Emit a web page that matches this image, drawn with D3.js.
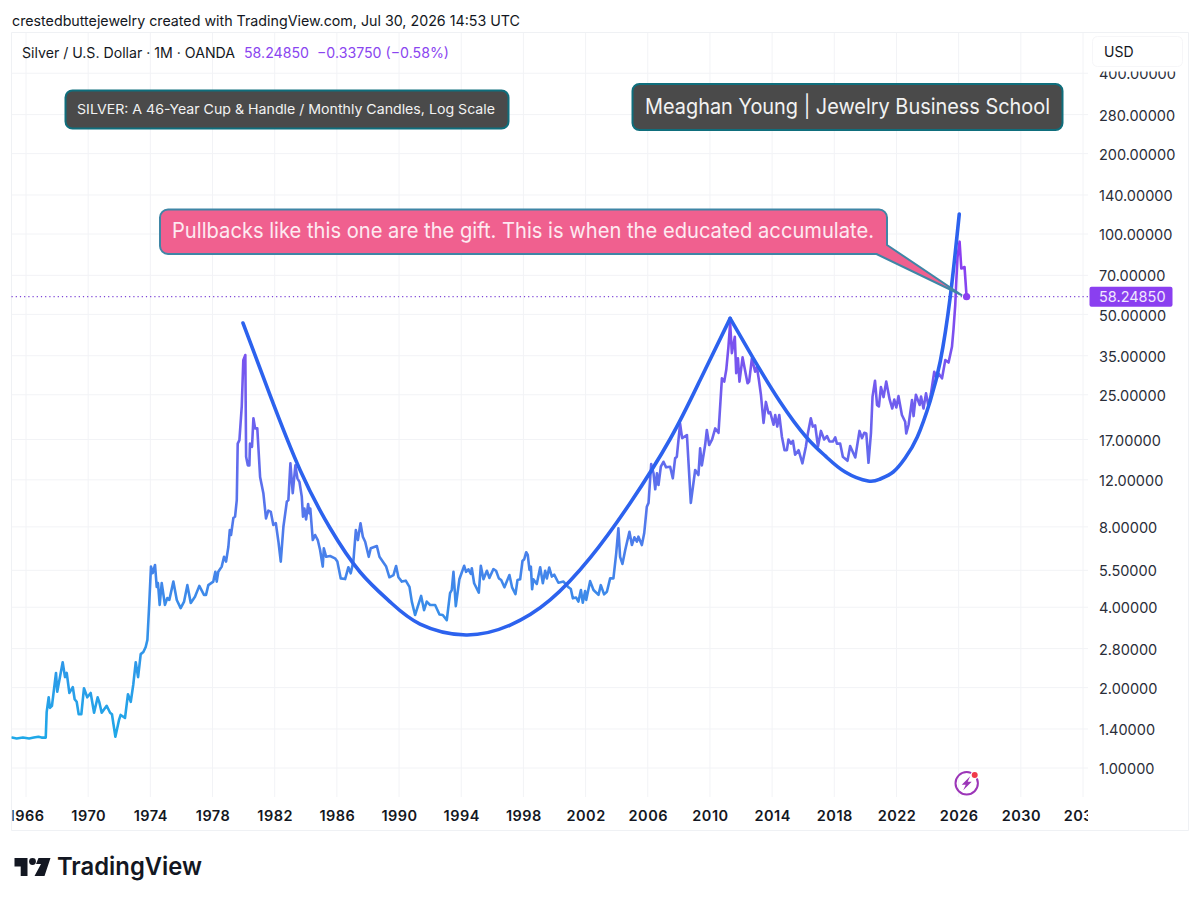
<!DOCTYPE html>
<html><head><meta charset="utf-8">
<script src="https://d3js.org/d3.v7.min.js"></script>
<style>
html,body{margin:0;padding:0;background:#fff}
svg{display:block}
text{font-family:Inter,"Noto Sans",sans-serif}
</style></head><body><div id="c"></div>
<script>
const yearTicks=[1966,1970,1974,1978,1982,1986,1990,1994,1998,2002,2006,2010,2014,2018,2022,2026,2030,2034];
const priceTicks=[400,280,200,140,100,70,50,35,25,17,12,8,5.5,4,2.8,2,1.4,1];
const lastPrice=58.2485;
const headline="crestedbuttejewelry created with TradingView.com, Jul 30, 2026 14:53 UTC";
const symbolTitle="Silver / U.S. Dollar · 1M · OANDA";
const quoteText="58.24850  −0.33750 (−0.58%)";
const note1="SILVER: A 46-Year Cup & Handle / Monthly Candles, Log Scale";
const note2="Meaghan Young | Jewelry Business School";
const note3="Pullbacks like this one are the gift. This is when the educated accumulate.";

const priceDates=[1965.10,1965.4,1965.8,1966.2,1966.5,1966.8,1967.0,1967.2,1967.27,1967.33,1967.46,1967.54,1967.67,1967.93,1968.01,1968.36,1968.51,1968.62,1968.79,1969.01,1969.13,1969.26,1969.39,1969.56,1969.73,1969.94,1970.16,1970.38,1970.61,1970.72,1970.87,1971.19,1971.41,1971.53,1971.75,1971.98,1972.09,1972.37,1972.56,1972.74,1972.90,1973.06,1973.21,1973.38,1973.55,1973.70,1973.81,1973.93,1974.04,1974.15,1974.30,1974.41,1974.49,1974.60,1974.73,1974.94,1975.09,1975.22,1975.48,1975.70,1975.95,1976.17,1976.38,1976.60,1976.87,1977.15,1977.45,1977.58,1977.73,1978.05,1978.18,1978.27,1978.37,1978.59,1978.74,1978.87,1979.02,1979.11,1979.19,1979.34,1979.45,1979.56,1979.62,1979.73,1979.88,1979.98,1980.11,1980.16,1980.27,1980.37,1980.41,1980.54,1980.63,1980.74,1980.88,1981.06,1981.27,1981.44,1981.59,1981.75,1981.91,1982.07,1982.24,1982.39,1982.56,1982.78,1982.88,1983.01,1983.16,1983.33,1983.46,1983.59,1983.74,1983.82,1983.91,1984.02,1984.15,1984.23,1984.29,1984.45,1984.60,1984.77,1984.92,1985.09,1985.16,1985.31,1985.56,1985.88,1986.03,1986.25,1986.53,1986.74,1986.89,1987.06,1987.22,1987.35,1987.52,1987.67,1987.82,1988.05,1988.18,1988.57,1988.74,1989.17,1989.38,1989.64,1989.81,1989.96,1990.18,1990.43,1990.67,1990.82,1991.03,1991.42,1991.61,1991.78,1992.00,1992.32,1992.60,1992.81,1993.07,1993.28,1993.39,1993.50,1993.65,1993.88,1994.19,1994.31,1994.46,1994.62,1994.68,1994.83,1995.13,1995.26,1995.43,1995.65,1995.81,1996.07,1996.24,1996.42,1996.57,1996.78,1997.10,1997.27,1997.49,1997.62,1997.79,1997.94,1998.05,1998.18,1998.28,1998.39,1998.48,1998.56,1998.64,1998.86,1999.08,1999.25,1999.40,1999.51,1999.66,1999.83,1999.98,2000.25,2000.58,2000.90,2001.05,2001.18,2001.39,2001.54,2001.70,2001.82,2001.97,2002.04,2002.29,2002.51,2002.83,2002.98,2003.19,2003.37,2003.58,2003.79,2003.97,2004.11,2004.22,2004.37,2004.55,2004.82,2004.98,2005.14,2005.30,2005.40,2005.62,2005.77,2005.94,2006.05,2006.22,2006.37,2006.48,2006.59,2006.69,2006.84,2007.01,2007.18,2007.44,2007.61,2007.76,2007.87,2008.08,2008.21,2008.52,2008.77,2009.05,2009.26,2009.37,2009.48,2009.69,2009.80,2009.95,2010.14,2010.34,2010.55,2010.77,2010.92,2011.05,2011.19,2011.30,2011.41,2011.60,2011.69,2011.80,2011.90,2012.10,2012.42,2012.52,2012.70,2012.91,2013.02,2013.15,2013.28,2013.45,2013.60,2013.77,2013.88,2014.09,2014.20,2014.33,2014.46,2014.63,2014.80,2014.95,2015.05,2015.21,2015.34,2015.48,2015.70,2015.95,2016.17,2016.30,2016.49,2016.62,2016.77,2016.95,2017.14,2017.35,2017.53,2017.69,2017.91,2018.06,2018.17,2018.38,2018.55,2018.85,2019.02,2019.35,2019.62,2019.78,2019.93,2020.06,2020.20,2020.36,2020.46,2020.62,2020.75,2020.87,2021.00,2021.17,2021.34,2021.56,2021.73,2021.86,2021.99,2022.13,2022.35,2022.56,2022.63,2022.78,2023.00,2023.10,2023.25,2023.49,2023.58,2023.74,2023.90,2024.06,2024.22,2024.43,2024.60,2024.71,2024.93,2025.14,2025.35,2025.57,2025.67,2025.78,2025.84,2025.93,2026.06,2026.17,2026.38,2026.51];
const priceValues=[1.30,1.29,1.30,1.29,1.30,1.31,1.30,1.30,1.30,1.62,1.84,1.68,1.71,2.27,1.93,2.49,2.19,2.27,1.91,2.01,1.81,1.77,1.59,1.59,1.99,1.84,1.91,1.61,1.84,1.76,1.61,1.71,1.61,1.59,1.31,1.51,1.58,1.54,1.89,1.77,2.05,2.49,2.19,2.67,2.72,2.84,3.02,4.14,5.68,5.37,5.76,4.77,4.93,4.08,4.93,4.08,4.33,4.26,4.99,4.26,3.97,4.2,4.84,4.15,4.38,4.81,4.45,4.45,4.84,4.99,5.43,4.99,5.43,5.68,6.18,5.93,6.74,7.78,7.46,8.63,8.74,10.08,16.4,16.9,22.6,33.7,35.2,14.65,13.6,13.6,16.4,15.96,20.4,18.7,18.7,12.3,10.7,8.61,9.2,9.1,8.13,8.27,7.04,5.93,8.01,9.94,10.08,13.84,10.7,13.6,12.16,11.8,10.4,8.74,9.37,8.53,9.75,8.99,9.37,7.14,7.46,7.14,6.55,5.68,6.65,6.18,6.22,6.1,5.93,5.13,5.1,5.65,5.36,5.93,7.78,7.14,8.25,7.35,7.04,6.18,6.65,6.78,6.18,5.68,5.18,5.28,5.71,5.18,4.99,5.03,4.77,4.2,3.74,4.41,3.9,4.2,4.08,4.08,3.76,3.74,3.58,4.52,4.64,5.43,4.04,5.09,5.72,5.43,5.55,5.33,5.6,4.92,4.54,5.72,5.09,5.48,5.15,5.56,5.48,5.13,5.06,4.75,5.28,4.75,4.48,5.06,5.09,5.96,6.05,6.43,6.28,5.52,5.68,4.67,5.09,4.89,5.65,4.92,5.48,5.13,5.63,5.21,5.3,4.94,4.99,4.75,4.68,4.32,4.35,4.2,4.64,4.16,4.6,4.26,5.01,4.64,4.45,4.84,4.47,4.57,5.13,5.13,6.37,7.9,6.18,5.81,6.55,7.67,6.84,7.31,7.04,7.35,6.84,7.57,9.52,9.84,13.76,12.7,11.06,12.7,11.48,13.44,14.03,13.37,13.44,12.16,14.45,14.65,19.5,17.2,17.66,9.84,13.06,12.51,15.75,13.6,16.2,18.45,16.2,17,18.7,18.0,28.8,28,31,37.8,46.4,35.8,41.2,30.1,34.2,28,34.5,27.6,28,34.2,30.5,31.8,28.4,25,19.6,23.5,21.3,21.5,19.3,21,19,21,17.4,15.5,15.5,17,16.4,16.8,14.9,15.5,13.84,15.96,17.9,20.4,19,19.2,16,18.3,17,17.5,16.7,16.7,17.3,16.4,16.4,14.65,14.15,16.07,14.55,18.3,17.2,18,17.9,13.9,18,24.6,28.2,22.9,22.6,26.7,24.5,28,24,22.2,24,22.4,24.7,21,19.8,17.9,19.3,23.9,20.8,25,22.9,24.6,22.2,25.3,22.6,25.3,30.5,28.8,30,28.8,33.7,33,37.8,44,54,65,82.2,93.6,74.3,75.2,58.25];

const cupDates=[1979.96,1981.70,1983.63,1985.56,1987.49,1989.42,1991.35,1994.31,1997.15,1999.72,2002.29,2004.87,2007.44,2009.37,2011.30];
const cupValues=[46.4,24.9,13.06,7.92,5.42,4.19,3.46,3.15,3.43,4.26,6.12,9.83,17.07,28.4,48.3];
const handleDates=[2011.30,2012.78,2014.52,2016.19,2017.42,2018.70,2020.18,2020.95,2021.79,2022.56,2023.34,2024.17,2024.82,2025.46,2026.04];
const handleValues=[48.3,34.3,23.5,17.37,14.75,12.84,11.88,12.09,12.84,14.49,17.37,23.7,33.4,58.2,118.8];

const W=1200,H=903;
const L=11.5,T=33,Rgrid=1088,B=797;
const x=d3.scaleLinear().domain([1966,2034]).range([26,1083]);
const y=d3.scaleLog().domain([1,100]).range([768,234]);
const svg=d3.select("#c").append("svg").attr("width",W).attr("height",H).attr("viewBox",`0 0 ${W} ${H}`);
const defs=svg.append("defs");
defs.append("clipPath").attr("id","plot").append("rect").attr("x",L).attr("y",T).attr("width",Rgrid-L).attr("height",B-T);
defs.append("clipPath").attr("id","xclip").append("rect").attr("x",L+1).attr("y",B).attr("width",1088-L-1).attr("height",33);
const g=defs.append("linearGradient").attr("id","lineGrad").attr("gradientUnits","userSpaceOnUse")
 .attr("x1",0).attr("x2",0).attr("y1",y(1.3)).attr("y2",y(90));
[[0,"#1fa8e8"],[0.27,"#3a8ce9"],[0.62,"#6a64ee"],[1,"#8c3df0"]].forEach(s=>g.append("stop").attr("offset",s[0]).attr("stop-color",s[1]));

// frame
const frame="#eff1f4";
svg.append("path").attr("d",`M${L} 32.5H1188.5V830.5H${L}Z`).attr("fill","none").attr("stroke",frame);

// grid
const grid=svg.append("g").attr("clip-path","url(#plot)");
grid.selectAll(".gv").data(yearTicks).join("line").attr("x1",d=>x(d)).attr("x2",d=>x(d)).attr("y1",T).attr("y2",B).attr("stroke","#f2f3f6");
grid.selectAll(".gh").data(priceTicks).join("line").attr("x1",L).attr("x2",Rgrid).attr("y1",d=>y(d)).attr("y2",d=>y(d)).attr("stroke","#f2f3f6");

// x axis
const xAxis=svg.append("g").attr("clip-path","url(#xclip)").append("g").attr("transform","translate(0,797)")
 .call(d3.axisBottom(x).tickValues(yearTicks).tickFormat(d3.format("d")).tickSize(0).tickPadding(14));
xAxis.select(".domain").remove();
xAxis.selectAll("text").attr("font-size",14.5).attr("font-weight",600).attr("fill","#131722").style("font-family","Inter").attr("letter-spacing",0.5);

// y axis
const yAxis=svg.append("g").attr("transform","translate(1099,1)")
 .call(d3.axisRight(y).tickValues(priceTicks).tickFormat(d3.format(".5f")).tickSize(0).tickPadding(0));
yAxis.select(".domain").remove();
yAxis.selectAll("text").attr("font-size",14.5).attr("fill","#2a2e39");

// USD button, masking the top of the highest price label
svg.append("rect").attr("x",1090).attr("y",34).attr("width",96).attr("height",37.5).attr("fill","#fff");
svg.append("rect").attr("x",1092.5).attr("y",36.5).attr("width",90).attr("height",30).attr("rx",5).attr("fill","#fff").attr("stroke","#f6f6f8");
svg.append("text").attr("x",1104).attr("y",57).attr("font-size",14).attr("fill","#131722").text("USD");

// last price line
svg.append("line").attr("x1",L).attr("x2",Rgrid).attr("y1",y(lastPrice)).attr("y2",y(lastPrice))
 .attr("stroke","#7d45d8").attr("stroke-width",1.2).attr("stroke-dasharray","1.2 3");

// series
const plot=svg.append("g").attr("clip-path","url(#plot)");
const line=d3.line().x(d=>x(d[0])).y(d=>y(d[1]));
plot.append("path").attr("d",line(d3.zip(priceDates,priceValues))).attr("fill","none").attr("stroke","url(#lineGrad)")
 .attr("stroke-width",2.6).attr("stroke-linejoin","round").attr("stroke-linecap","round");
plot.append("circle").attr("cx",x(priceDates[priceDates.length-1])).attr("cy",y(lastPrice)).attr("r",3.6).attr("fill","#8a3ff0");

const smooth=d3.line().x(d=>x(d[0])).y(d=>y(d[1])).curve(d3.curveNatural);
[[cupDates,cupValues],[handleDates,handleValues]].forEach(a=>{
 plot.append("path").attr("d",smooth(d3.zip(a[0],a[1]))).attr("fill","none").attr("stroke","#2c62ee").attr("stroke-width",3.6).attr("stroke-linecap","round").attr("stroke-linejoin","round");
});

// price label
svg.append("rect").attr("x",1089.5).attr("y",y(lastPrice)-10).attr("width",83).attr("height",20).attr("rx",2).attr("fill","#8a3ff0");
svg.append("text").attr("x",1099).attr("y",y(lastPrice)+5.5).attr("font-size",14.5).attr("fill","#f1e8fe").text("58.24850");

// notes
function note(x0,y0,w,h,txt,fs,tx,tlen,dyy){
 svg.append("rect").attr("x",x0).attr("y",y0).attr("width",w).attr("height",h).attr("rx",7).attr("fill","#4a4a4a").attr("stroke","#0f6e7c").attr("stroke-width",2);
 svg.append("text").attr("x",tx).attr("y",y0+h/2+dyy).attr("dy","0.35em").attr("font-size",fs).attr("fill","#f2f2f2").attr("textLength",tlen).attr("lengthAdjust","spacingAndGlyphs").text(txt);
}
note(65.5,90.5,443,38,note1,13.5,77,418,-0.5);
note(632.5,84,430,46,note2,21.5,645,405,-1);

// pink callout
svg.append("path").attr("d","M168 209.5H879a8 8 0 0 1 8 8V245L961.5 295L876.5 254H168a8 8 0 0 1 -8 -8V217.5a8 8 0 0 1 8 -8Z")
 .attr("fill","#f0608f").attr("stroke","#3f86a6").attr("stroke-width",2).attr("stroke-linejoin","round");
svg.append("text").attr("x",172).attr("y",230.5).attr("dy","0.35em").attr("font-size",21.5).attr("fill","#fdeaf1").attr("textLength",702).attr("lengthAdjust","spacingAndGlyphs").text(note3);

// header
svg.append("text").attr("x",12).attr("y",26).attr("font-size",14.3).attr("fill","#131722").attr("textLength",508).attr("lengthAdjust","spacingAndGlyphs").text(headline);
svg.append("text").attr("x",22).attr("y",58).attr("font-size",14).attr("fill","#131722").attr("textLength",213).attr("lengthAdjust","spacingAndGlyphs").text(symbolTitle);
svg.append("text").attr("x",244).attr("y",58).attr("font-size",14).attr("fill","#8a45f0").attr("textLength",205).attr("lengthAdjust","spacingAndGlyphs").attr("xml:space","preserve").style("white-space","pre").text(quoteText);

// lightning icon
const ic=svg.append("g").attr("transform","translate(966.7,783.3)");
ic.append("circle").attr("r",11.2).attr("fill","none").attr("stroke","#9c35b8").attr("stroke-width",2);
ic.append("path").attr("d","M3.5 -7L-5 1.5H-1L-3.5 7L5 -1.5H1Z").attr("fill","#9c35b8");
ic.append("circle").attr("cx",8).attr("cy",-8.3).attr("r",4).attr("fill","#fff");
ic.append("circle").attr("cx",8).attr("cy",-8.3).attr("r",3).attr("fill","#f0394a");

// TradingView logo
const lg=svg.append("g").attr("fill","#131722");
lg.append("path").attr("d","M14.5 858H27.5V876H20.7V866.5H14.5Z");
lg.append("circle").attr("cx",32.5).attr("cy",861.5).attr("r",3.4);
lg.append("path").attr("d","M38.5 858H50.5L44.5 876H34.5L41 864H36Z");
svg.append("text").attr("x",57).attr("y",875).attr("font-size",24.5).attr("font-weight",600).attr("fill","#131722").attr("textLength",145).attr("lengthAdjust","spacingAndGlyphs").text("TradingView");
</script></body></html>
